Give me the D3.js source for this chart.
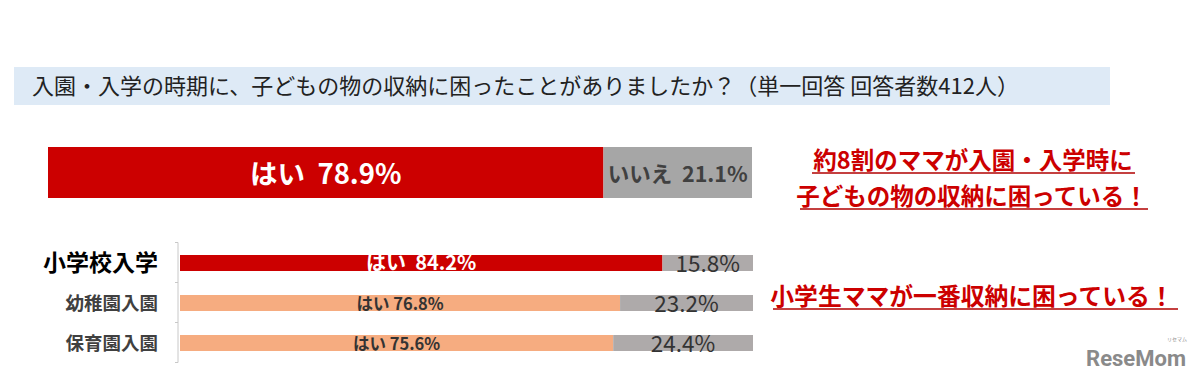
<!DOCTYPE html>
<html>
<head>
<meta charset="utf-8">
<script src="https://cdn.jsdelivr.net/npm/d3@7"></script>
<style>
  body { margin: 0; background: #fff; }
  svg { display: block; font-family: "Noto Sans CJK JP", "Noto Sans", sans-serif; }
</style>
</head>
<body>
<div id="container"></div>
<script>
// data
const title = '入園・入学の時期に、子どもの物の収納に困ったことがありましたか？（単一回答 回答者数412人）',
  topLabels = ['はい', 'いいえ'],
  topValues = [78.9, 21.1],
  rowLabels = ['小学校入学', '幼稚園入園', '保育園入園'],
  yesValues = [84.2, 76.8, 75.6],
  noValues = [15.8, 23.2, 24.4],
  note1 = ['約8割のママが入園・入学時に', '子どもの物の収納に困っている！'],
  note2 = '小学生ママが一番収納に困っている！'

const width = 1200, height = 376,
  red = '#cc0000',
  peach = '#f6ac80',
  svg = d3.select('#container')
    .append('svg')
      .attr('width', width)
      .attr('height', height)

// title band
svg.append('rect')
  .attr('x', 14).attr('y', 67)
  .attr('width', 1096).attr('height', 38)
  .attr('fill', '#deeaf6')
svg.append('text')
  .attr('x', 32).attr('y', 94)
  .attr('font-size', 22)
  .attr('fill', '#222')
  .text(title)

// overall bar
const xTop = d3.scaleLinear().domain([0, 100]).range([48, 752])
const topStarts = topValues.map((v, i) => d3.sum(topValues.slice(0, i)))
const topG = svg.append('g')
topG.selectAll('rect')
  .data(topValues)
  .enter()
  .append('rect')
    .attr('x', (d, i) => xTop(topStarts[i]))
    .attr('y', 147)
    .attr('width', d => xTop(d) - xTop(0))
    .attr('height', 51)
    .attr('fill', (d, i) => i == 0 ? red : '#a6a6a6')
topG.selectAll('text')
  .data(topValues)
  .enter()
  .append('text')
    .attr('x', (d, i) => xTop(topStarts[i] + d / 2))
    .attr('y', (d, i) => i == 0 ? 184 : 182)
    .attr('text-anchor', 'middle')
    .attr('font-weight', 'bold')
    .attr('font-size', (d, i) => i == 0 ? 27.5 : 21.5)
    .attr('fill', (d, i) => i == 0 ? '#fff' : '#404040')
    .attr('xml:space', 'preserve')
    .text((d, i) => `${topLabels[i]}  ${d.toFixed(1)}%`)

// breakdown bars
const x = d3.scaleLinear().domain([0, 100]).range([180, 753]),
  y = d3.scaleBand().domain(rowLabels).range([242, 362]).paddingInner(0).paddingOuter(0)

const axis = svg.append('g')
  .attr('transform', 'translate(178,0)')
  .call(d3.axisLeft(y).tickSize(0).tickFormat(''))
axis.select('.domain').attr('stroke', '#c8c8c8').attr('d', 'M-3,242.5H0V362.5H-3')
axis.selectAll('.boundary')
  .data(rowLabels.slice(1))
  .enter()
  .append('line')
    .attr('x1', -3).attr('x2', 0)
    .attr('y1', d => y(d) + 0.5).attr('y2', d => y(d) + 0.5)
    .attr('stroke', '#c8c8c8')

const bh = 16
const rows = svg.append('g').selectAll('g')
  .data(rowLabels)
  .enter()
  .append('g')
rows.append('rect')
  .attr('x', x(0))
  .attr('y', d => y(d) + 13)
  .attr('width', (d, i) => x(yesValues[i]) - x(0))
  .attr('height', bh)
  .attr('fill', (d, i) => i == 0 ? red : peach)
rows.append('rect')
  .attr('x', (d, i) => x(yesValues[i]))
  .attr('y', d => y(d) + 13)
  .attr('width', (d, i) => x(yesValues[i] + noValues[i]) - x(yesValues[i]))
  .attr('height', bh)
  .attr('fill', '#aeaaaa')
rows.append('text')
  .attr('x', (d, i) => x(yesValues[i] / 2))
  .attr('y', d => y(d) + 28)
  .attr('text-anchor', 'middle')
  .attr('font-weight', 'bold')
  .attr('font-size', (d, i) => i == 0 ? 20 : 16.5)
  .attr('fill', (d, i) => i == 0 ? '#fff' : '#333')
  .attr('xml:space', 'preserve')
  .text((d, i) => (i == 0 ? 'はい  ' : 'はい ') + yesValues[i].toFixed(1) + '%')
rows.append('text')
  .attr('x', (d, i) => x(yesValues[i] + noValues[i] / 2))
  .attr('y', d => y(d) + 30)
  .attr('text-anchor', 'middle')
  .attr('font-size', 22.5)
  .attr('fill', '#333')
  .text((d, i) => noValues[i].toFixed(1) + '%')
rows.append('text')
  .attr('x', 158)
  .attr('y', (d, i) => y(d) + (i == 0 ? 29 : 28))
  .attr('text-anchor', 'end')
  .attr('font-weight', 'bold')
  .attr('font-size', (d, i) => i == 0 ? 23 : 18.5)
  .attr('fill', (d, i) => i == 0 ? '#000' : '#404040')
  .text(d => d)

// annotations
const noteStyle = sel => sel
  .attr('text-anchor', 'middle')
  .attr('font-weight', 'bold')
  .attr('font-size', 23.5)
  .attr('fill', red)
svg.selectAll('.note1')
  .data(note1)
  .enter()
  .append('text')
    .attr('class', 'note1')
    .attr('x', (d, i) => i == 0 ? 973 : 972)
    .attr('y', (d, i) => 169 + i * 36)
    .call(noteStyle)
    .text(d => d)
const u1 = [[812, 1135, 173], [800, 1148, 209]]
svg.selectAll('.u1')
  .data(u1)
  .enter()
  .append('line')
    .attr('x1', d => d[0]).attr('x2', d => d[1])
    .attr('y1', d => d[2]).attr('y2', d => d[2])
    .attr('stroke', '#b00000').attr('stroke-width', 1.5)
svg.append('text')
  .attr('x', 972).attr('y', 305)
  .call(noteStyle)
  .attr('font-size', 23.8)
  .text(note2)
svg.append('line')
  .attr('x1', 773).attr('x2', 1178)
  .attr('y1', 309).attr('y2', 309)
  .attr('stroke', '#b00000').attr('stroke-width', 1.5)

// logo
svg.append('text')
  .attr('x', 1186).attr('y', 366)
  .attr('text-anchor', 'end')
  .attr('font-family', '"Liberation Sans Narrow", "Roboto", sans-serif')
  .attr('font-weight', 'bold')
  .attr('font-size', 22)
  .attr('fill', '#8a8a8a')
  .text('ReseMom')
svg.append('text')
  .attr('x', 1177).attr('y', 341)
  .attr('text-anchor', 'middle')
  .attr('font-size', 5)
  .attr('fill', '#8a8a8a')
  .text('リセマム')
</script>
</body>
</html>
